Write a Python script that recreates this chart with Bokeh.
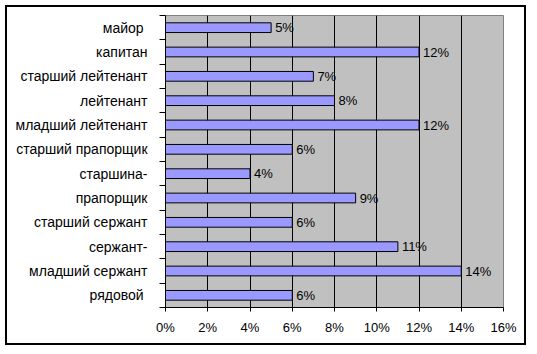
from bokeh.plotting import figure
from bokeh.models import Range1d, FixedTicker, NumeralTickFormatter, ColumnDataSource
from bokeh.core.properties import value
from bokeh.embed import file_html
from bokeh.resources import INLINE

categories = ["майор ", "капитан", "старший лейтенант", "лейтенант", "младший лейтенант",
              "старший прапорщик", "старшина-", "прапорщик", "старший сержант", "сержант-",
              "младший сержант", "рядовой "]
values_pct = [5, 12, 7, 8, 12, 6, 4, 9, 6, 11, 14, 6]
x_ticks_pct = [0, 2, 4, 6, 8, 10, 12, 14, 16]

n = len(categories)
ypos = [n - 1 - i + 0.5 for i in range(n)]
src = ColumnDataSource(dict(
    y=ypos,
    x=[v / 100 for v in values_pct],
    lbl=[f"{v}%" for v in values_pct],
))

FONT = "Liberation Sans"

p = figure(width=521, height=340, output_backend="svg", toolbar_location=None,
           x_range=Range1d(0, 0.16), y_range=Range1d(0, n),
           min_border_left=158, min_border_top=8, min_border_right=25, min_border_bottom=40)
p.styles = {"border": "2px solid black", "margin-left": "5px", "margin-top": "5px"}

p.background_fill_color = "#C0C0C0"
p.border_fill_color = "white"
p.outline_line_color = "#808080"
p.outline_line_width = 1

p.hbar(y="y", right="x", left=0, height=0.4, source=src,
       fill_color="#9999FF", line_color="black", line_width=1)
p.text(x="x", y="y", text="lbl", source=src, x_offset=4,
       text_baseline="middle", text_align="left",
       text_font=value(FONT), text_font_size="13px", text_color="black")

# x axis
p.xaxis.ticker = FixedTicker(ticks=[t / 100 for t in x_ticks_pct])
p.xaxis.formatter = NumeralTickFormatter(format="0%")
p.xaxis.major_tick_in = 0
p.xaxis.major_tick_out = 4
p.xaxis.minor_tick_line_color = None
p.xaxis.major_label_standoff = 8
p.xaxis.axis_line_color = "black"
p.xaxis.major_tick_line_color = "black"

# y axis
p.yaxis.ticker = FixedTicker(ticks=ypos, minor_ticks=list(range(n + 1)))
p.yaxis.major_label_overrides = {y: c for y, c in zip(ypos, categories)}
p.yaxis.major_tick_line_color = None
p.yaxis.major_tick_out = 0
p.yaxis.major_tick_in = 0
p.yaxis.minor_tick_in = 0
p.yaxis.minor_tick_out = 6
p.yaxis.minor_tick_line_color = "black"
p.yaxis.major_label_standoff = 12
p.yaxis.axis_line_color = "black"

for ax in (p.xaxis, p.yaxis):
    ax.major_label_text_font = FONT
    ax.major_label_text_color = "black"
p.xaxis.major_label_text_font_size = "13px"
p.yaxis.major_label_text_font_size = "14px"

p.xgrid.ticker = FixedTicker(ticks=[t / 100 for t in x_ticks_pct])
p.xgrid.grid_line_color = "black"
p.xgrid.grid_line_alpha = 1
p.ygrid.grid_line_color = None

open("out.html", "w").write(file_html(p, INLINE))
